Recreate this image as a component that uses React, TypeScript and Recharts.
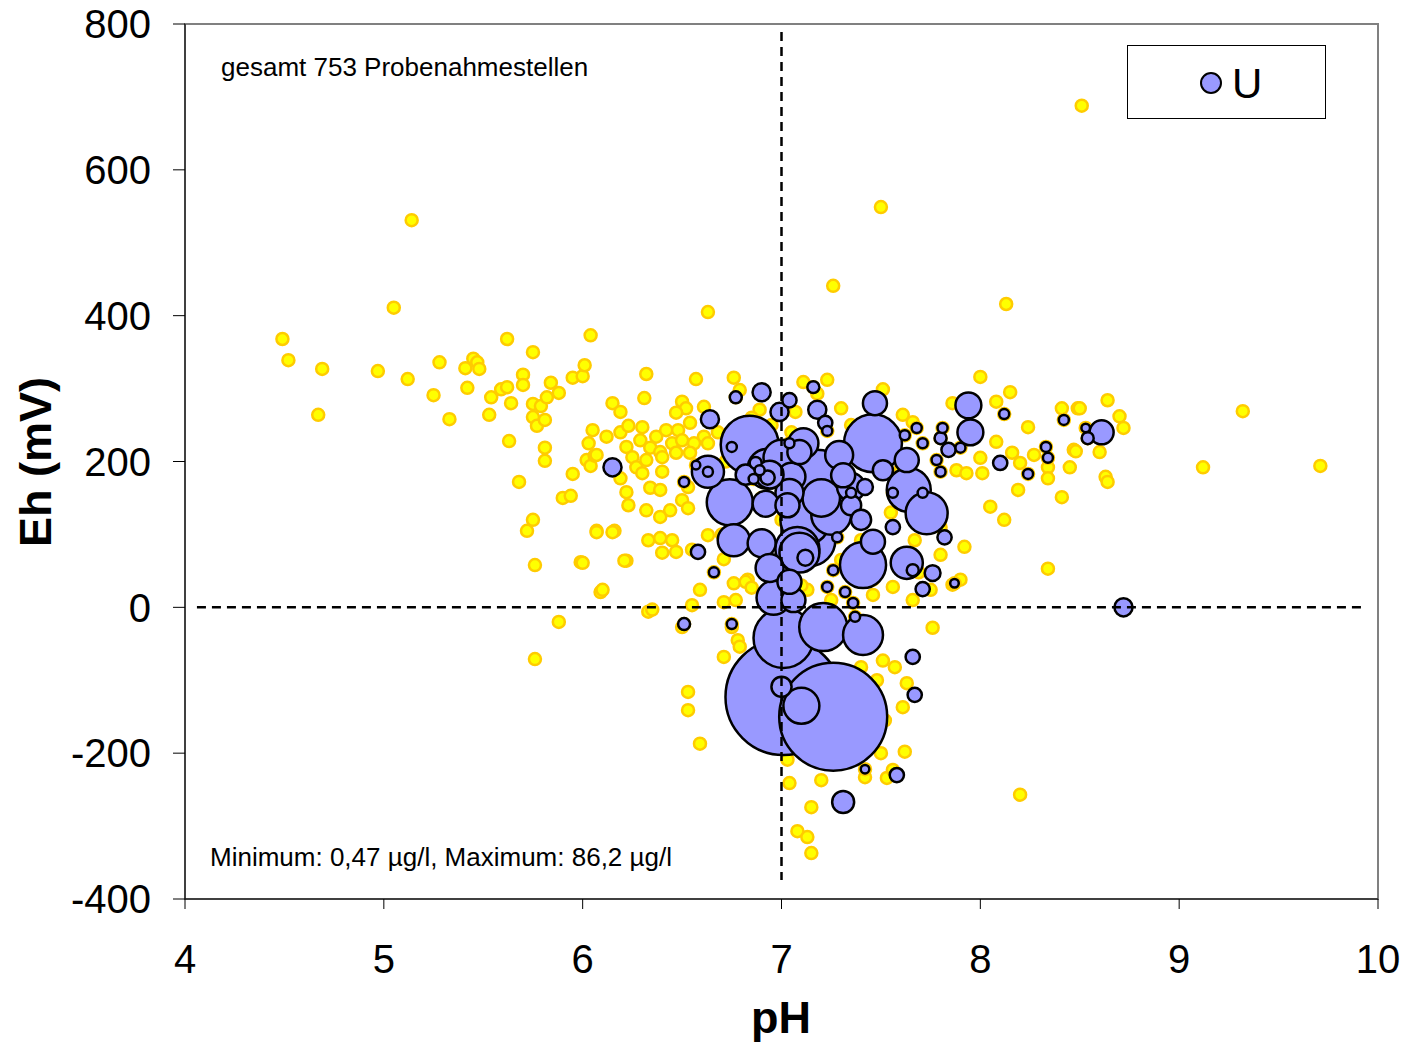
import { ScatterChart, Scatter, XAxis, YAxis, ZAxis, ReferenceArea, Customized } from 'recharts';

const FONT = '"Liberation Sans", Arial, sans-serif';

const phTicks = [4, 5, 6, 7, 8, 9, 10];
const ehTicks = [-400, -200, 0, 200, 400, 600, 800];

const noteTop = 'gesamt 753 Probenahmestellen';
const noteBottom = 'Minimum: 0,47 µg/l, Maximum: 86,2 µg/l';
const seriesName = 'U';

// dashed guide lines: neutral pH and Eh = 0
const neutralLine = [{ ph: 7, eh: 789 }, { ph: 7, eh: -374 }];
const zeroLine = [{ ph: 4.06, eh: 0 }, { ph: 9.94, eh: 0 }];

// all sampling points [pH, Eh mV]
const samplePoints: [number, number][] = [
  [4.49, 368], [4.52, 339], [4.69, 327], [4.67, 264], [4.97, 324], [5.05, 411], [5.14, 531], [5.12, 313],
  [5.25, 291], [5.28, 336], [5.33, 258], [5.41, 328], [5.45, 341], [5.47, 336], [5.48, 327], [5.42, 301],
  [5.54, 288], [5.53, 264], [5.59, 299], [5.62, 302], [5.62, 368], [5.7, 319], [5.7, 305], [5.75, 350],
  [5.64, 280], [5.75, 279], [5.79, 276], [5.84, 308], [5.82, 288], [5.88, 294], [5.95, 315], [6.0, 317],
  [6.01, 332], [6.04, 373], [5.75, 261], [5.77, 249], [5.81, 257], [5.63, 228], [5.81, 219], [5.81, 201],
  [5.68, 172], [5.95, 183], [6.05, 243], [6.03, 225], [6.02, 202], [6.04, 194], [6.06, 208], [5.9, 150],
  [5.94, 153], [5.75, 120], [5.72, 105], [5.76, 58], [5.88, -20], [5.76, -71], [5.99, 62], [6.09, 21],
  [6.07, 105], [6.16, 105], [6.22, 64],
  [6.32, 320], [6.57, 313], [6.76, 315], [6.31, 287], [6.15, 280], [6.19, 268], [6.5, 282], [6.52, 273],
  [6.47, 267], [6.61, 275], [6.12, 234], [6.19, 240], [6.23, 249], [6.3, 247], [6.37, 234], [6.42, 243],
  [6.48, 243], [6.54, 253], [6.61, 234], [6.22, 220], [6.29, 229], [6.34, 219], [6.39, 213], [6.45, 225],
  [6.5, 229], [6.56, 225], [6.63, 225], [6.07, 209], [6.25, 206], [6.32, 202], [6.4, 206], [6.47, 212],
  [6.54, 212], [6.27, 192], [6.3, 184], [6.4, 186], [6.19, 177], [6.22, 158], [6.34, 164], [6.39, 161],
  [6.53, 165], [6.23, 140], [6.32, 133], [6.39, 124], [6.44, 133], [6.5, 147], [6.53, 136], [6.07, 103],
  [6.15, 103], [6.33, 92], [6.39, 95], [6.45, 92], [6.4, 75], [6.47, 76], [6.55, 79], [6.63, 99],
  [6.0, 61], [6.21, 64], [6.1, 24], [6.71, 66], [6.59, 24], [6.76, 33], [6.83, 38],
  [6.82, 35], [6.85, 27], [6.71, 7], [6.77, 10], [6.33, -6], [6.35, -3], [6.55, 3], [7.13, 24],
  [7.46, 17], [7.56, 28], [7.66, 10], [7.76, -28], [6.5, -27], [6.75, -27], [6.78, -45], [6.79, -54],
  [6.71, -68], [6.53, -116], [6.53, -141], [6.59, -187], [7.51, -73], [7.57, -82], [7.4, -82], [7.48, -100],
  [7.63, -104], [7.61, -137], [7.52, -155], [7.5, -200], [7.62, -198], [7.42, -233], [7.53, -234], [7.56, -223],
  [7.04, -241], [7.2, -237], [7.15, -274], [7.08, -307], [7.13, -315], [7.15, -337], [7.03, -209], [7.69, 48],
  [7.86, 31], [7.46, 38],
  [8.0, 316], [7.11, 309], [7.51, 299], [7.3, 273], [8.15, 295], [8.08, 282], [8.41, 273], [8.49, 273],
  [8.24, 247], [8.08, 227], [8.16, 212], [8.27, 209], [8.34, 192], [8.47, 216], [8.45, 192], [8.2, 198],
  [8.34, 177], [8.19, 161], [8.05, 138], [8.12, 120], [8.41, 151], [7.92, 83], [7.67, 92], [8.34, 53],
  [7.61, 264], [7.66, 254], [8.0, 205], [7.88, 188], [7.93, 184], [8.01, 184], [7.86, 280],
  [8.64, 284], [8.7, 262], [8.72, 246], [8.5, 273], [8.6, 213], [9.32, 269], [9.12, 192], [9.71, 194],
  [8.63, 179], [8.64, 172], [8.48, 214],
  [8.51, 688], [7.5, 549], [7.26, 441], [6.63, 405], [8.13, 416], [8.2, -257],
  [6.79, 298], [6.89, 271], [7.07, 268], [7.18, 293], [7.23, 312], [7.3, 65], [7.4, 92], [7.6, 65],
  [7.8, 72], [7.75, 24], [7.9, 38], [6.95, 250], [7.05, 240], [7.35, 250], [7.55, 240], [6.9, 150],
  [7.0, 120], [6.95, 60], [7.1, 30], [7.25, 10], [7.6, 190], [7.7, 170], [7.75, 140], [7.8, 110],
  [7.55, 130], [6.7, 100], [6.72, 200], [6.68, 240], [6.85, 260],
];

// points with uranium analysis [pH, Eh mV, U µg/l]
const uPoints: [number, number, number][] = [
  [6.15, 192, 2.1], [6.58, 76, 1.3], [6.66, 48, 0.64], [6.51, -23, 0.92], [6.75, -23, 0.64],
  [6.64, 258, 2.1], [6.77, 288, 0.92], [6.9, 295, 2.1], [6.99, 268, 2.1], [7.04, 284, 1.3],
  [7.16, 302, 0.92], [7.18, 271, 2.1], [7.22, 253, 1.3], [7.23, 242, 0.64], [7.47, 280, 3.7],
  [6.84, 223, 21.5], [6.75, 220, 0.64], [7.46, 225, 21.5], [7.94, 277, 4.3], [7.95, 240, 4.3],
  [8.61, 240, 3.7], [8.53, 246, 0.47], [8.54, 232, 0.92], [8.1, 198, 1.3], [8.24, 183, 0.64],
  [8.33, 220, 0.64], [8.34, 205, 0.64], [8.12, 265, 0.64], [8.42, 257, 0.64], [8.72, 0, 2.1],
  [7.64, 161, 12.4], [7.73, 129, 11.3], [7.41, 58, 13.6], [7.46, 90, 3.7], [7.63, 61, 6.6],
  [7.76, 47, 1.6], [7.71, 25, 1.3], [7.87, 33, 0.47], [7.82, 96, 1.3], [7.56, 110, 1.3],
  [7.66, -68, 1.3], [7.67, -120, 1.3], [7.58, -230, 1.3], [7.42, -222, 0.47], [7.31, -267, 3.1],
  [7.26, -150, 74.7], [7.01, -123, 86.2], [7.1, -135, 8.3], [7.0, -109, 2.6], [7.01, -42, 23],
  [7.21, -27, 14.8], [7.41, -38, 10.2], [6.96, 13, 7.4], [7.36, 6, 0.64], [7.37, -13, 0.64],
  [7.32, 21, 0.64], [7.23, 28, 0.64], [7.66, 51, 0.92], [6.9, 88, 5.0], [6.76, 92, 6.6],
  [6.74, 144, 13.6], [6.63, 186, 6.6], [6.57, 195, 0.47], [6.63, 186, 0.64], [6.51, 172, 0.64],
  [7.05, 179, 5.0], [7.03, 140, 3.7], [7.18, 175, 23], [7.11, 225, 5.8], [7.04, 157, 5.0],
  [7.62, 236, 0.64], [7.68, 246, 0.64], [7.71, 225, 0.64], [7.63, 202, 3.7], [7.56, 157, 0.64],
  [7.71, 157, 0.64], [7.42, 165, 1.6], [7.35, 157, 0.64], [7.35, 140, 2.6], [7.4, 120, 2.6],
  [7.28, 96, 0.64], [7.26, 51, 0.64], [7.81, 246, 0.64], [7.8, 232, 0.92], [7.84, 216, 1.3],
  [7.78, 202, 0.64], [7.9, 219, 0.64], [7.8, 186, 0.64], [7.09, 75, 10.2], [7.12, 68, 1.6],
  [7.25, 127, 10.2], [7.35, 165, 5.0], [6.94, 182, 5.0], [6.92, 142, 4.3], [6.82, 182, 2.6],
  [7.12, 120, 16], [7.14, 92, 17.3], [6.94, 54, 5.0], [7.06, 10, 3.7], [7.09, 213, 3.7],
  [7.29, 209, 5.0], [7.31, 181, 3.7], [7.51, 188, 2.6], [6.89, 188, 0.64], [7.04, 225, 0.64],
  [6.87, 198, 0.92], [6.93, 178, 1.3], [6.86, 176, 0.64], [7.04, 35, 3.7],
  [6.93, 190, 10.2], [7.08, 80, 12.4], [7.0, 205, 8.3], [7.2, 150, 9.0],
];

const U_MAX = 86.2;
const MAX_R = 58;
const SAMPLE_R = 6;

// the U points are part of all sampling points
const sampleData = [...samplePoints, ...uPoints.map(([ph, eh]) => [ph, eh] as [number, number])].map(
  ([ph, eh]) => ({ ph, eh })
);
// big bubbles first so small ones stay visible
const uData = uPoints.map(([ph, eh, u]) => ({ ph, eh, u })).sort((a, b) => b.u - a.u);

const dashed = { stroke: '#000', strokeWidth: 2.5, strokeDasharray: '9 6' };

function SampleDot(props: any) {
  const { cx, cy } = props;
  if (cx == null || cy == null) return null;
  return <circle cx={cx} cy={cy} r={SAMPLE_R} fill="#FFFF00" stroke="#FFCC00" strokeWidth={2.5} />;
}

function NoDot() {
  return null;
}

function Annotations() {
  return (
    <g fontFamily={FONT} fill="#000">
      <text x={221} y={76} fontSize={26}>{noteTop}</text>
      <text x={210} y={866} fontSize={26}>{noteBottom}</text>
      <rect x={1127.5} y={45.5} width={198} height={73} fill="#fff" stroke="#000" />
      <circle cx={1211} cy={83} r={10} fill="#9999FF" stroke="#000" strokeWidth={2} />
      <text x={1232} y={98} fontSize={42}>{seriesName}</text>
      <text x={781} y={1033} fontSize={45} fontWeight="bold" textAnchor="middle">pH</text>
      <text transform="translate(51,462) rotate(-90)" fontSize={45} fontWeight="bold" textAnchor="middle">
        Eh (mV)
      </text>
    </g>
  );
}

export default function App() {
  return (
    <div style={{ position: 'absolute', left: 0, top: 0, width: 1403, height: 1045, background: '#fff' }}>
      <ScatterChart width={1403} height={1045} margin={{ top: 24, right: 25, left: 0, bottom: 0 }}>
        <ReferenceArea x1={4} x2={10} y1={-400} y2={800} fill="none" stroke="#808080" strokeWidth={2} />
        <XAxis
          type="number"
          dataKey="ph"
          domain={[4, 10]}
          ticks={phTicks}
          height={146}
          tickSize={10}
          tickMargin={36}
          stroke="#000"
          tick={{ fill: '#000', fontSize: 40, fontFamily: FONT }}
          allowDataOverflow
        />
        <YAxis
          type="number"
          dataKey="eh"
          domain={[-400, 800]}
          ticks={ehTicks}
          width={185}
          tickSize={12}
          tickMargin={22}
          stroke="#000"
          tick={{ fill: '#000', fontSize: 40, fontFamily: FONT }}
          allowDataOverflow
        />
        <ZAxis zAxisId="u" type="number" dataKey="u" domain={[0, U_MAX]} range={[0, Math.PI * MAX_R * MAX_R]} />
        <Scatter data={sampleData} zAxisId="u" shape={SampleDot} isAnimationActive={false} />
        <Scatter
          data={uData}
          zAxisId="u"
          name={seriesName}
          fill="#9999FF"
          stroke="#000"
          strokeWidth={2.5}
          isAnimationActive={false}
        />
        <Scatter data={neutralLine} zAxisId="u" line={dashed} shape={NoDot} isAnimationActive={false} />
        <Scatter data={zeroLine} zAxisId="u" line={dashed} shape={NoDot} isAnimationActive={false} />
        <Customized component={Annotations} />
      </ScatterChart>
    </div>
  );
}
